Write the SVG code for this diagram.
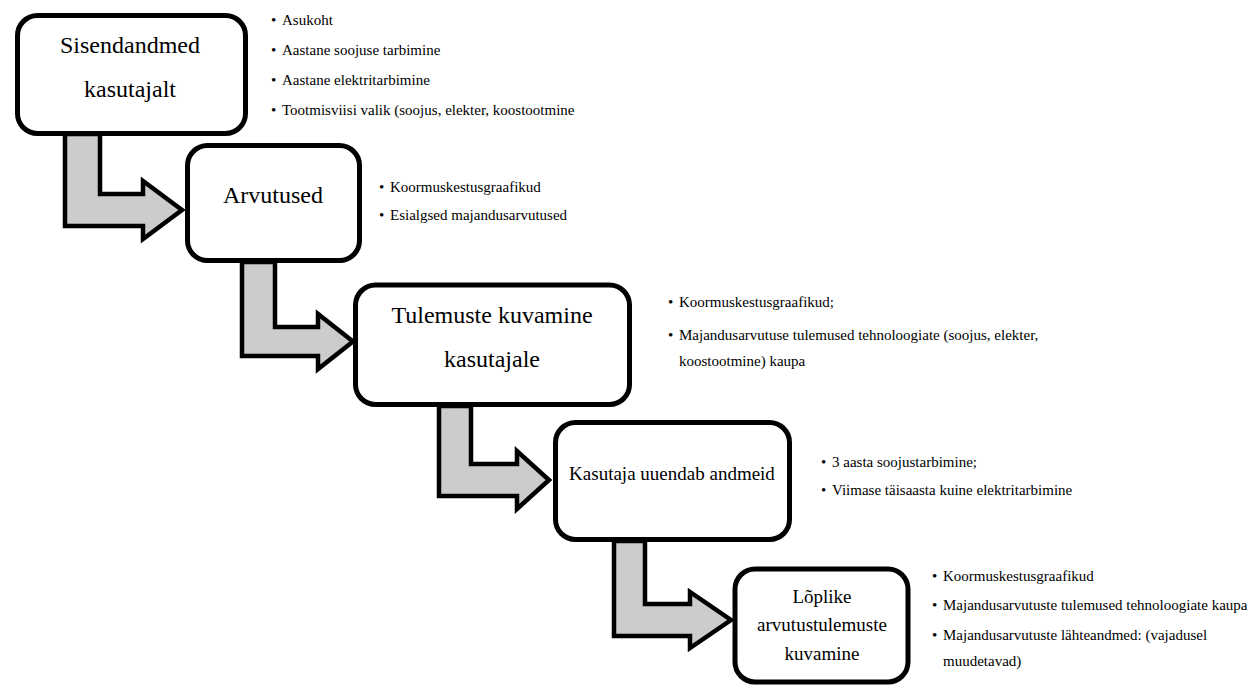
<svg xmlns="http://www.w3.org/2000/svg" width="1253" height="686" viewBox="0 0 1253 686">
<style>
.box{fill:#fff;stroke:#000;stroke-width:5}
.arr{fill:#cccccc;stroke:#000;stroke-width:4.5;stroke-linejoin:miter}
.t{font-family:'Liberation Serif','Times New Roman','DejaVu Serif',serif;fill:#000;text-anchor:middle}
.big{font-size:24px}
.mid{font-size:19px}
.b{font-family:'Liberation Serif','Times New Roman','DejaVu Serif',serif;font-size:15px;fill:#000}
</style>
<rect width="1253" height="686" fill="#fff"/>
<g id="connectors">
<path class="arr" d="M65 134 L65 226 L143 226 L143 239 L182 210 L143 181 L143 194 L100 194 L100 134 Z"/>
<path class="arr" d="M242 262 L242 356 L318 356 L318 369 L353 341.5 L318 314 L318 327 L275 327 L275 262 Z"/>
<path class="arr" d="M439 406 L439 496 L517 496 L517 509 L549 480 L517 451 L517 464 L471 464 L471 406 Z"/>
<path class="arr" d="M614 541 L614 636 L690 636 L690 648 L731 620 L690 592 L690 604 L645 604 L645 541 Z"/>
</g>
<g id="n1">
<rect class="box" x="17.5" y="15.5" width="228" height="118" rx="20"/>
<text class="t big" x="130" y="53" font-family="Liberation Serif">Sisendandmed</text>
<text class="t big" x="130" y="97" font-family="Liberation Serif">kasutajalt</text>
</g>
<g id="n2">
<rect class="box" x="187.5" y="145.5" width="172" height="115" rx="20"/>
<text class="t big" x="273" y="203">Arvutused</text>
</g>
<g id="n3">
<rect class="box" x="355.5" y="285" width="274" height="119.5" rx="20"/>
<text class="t big" x="492" y="323">Tulemuste kuvamine</text>
<text class="t big" x="492" y="367">kasutajale</text>
</g>
<g id="n4">
<rect class="box" x="555.5" y="422.5" width="234" height="117" rx="20"/>
<text class="t mid" x="672" y="480">Kasutaja uuendab andmeid</text>
</g>
<g id="n5">
<rect class="box" x="735" y="569" width="173" height="113" rx="20"/>
<text class="t mid" x="822" y="603">Lõplike</text>
<text class="t mid" x="822" y="631">arvutustulemuste</text>
<text class="t mid" x="822" y="660">kuvamine</text>
</g>
<g id="notes1">
<text class="b" x="271" y="25">•</text><text class="b" x="282" y="25">Asukoht</text>
<text class="b" x="271" y="55">•</text><text class="b" x="282" y="55">Aastane soojuse tarbimine</text>
<text class="b" x="271" y="85">•</text><text class="b" x="282" y="85">Aastane elektritarbimine</text>
<text class="b" x="271" y="115">•</text><text class="b" x="282" y="115">Tootmisviisi valik (soojus, elekter, koostootmine</text>
</g>
<g id="notes2">
<text class="b" x="379" y="192">•</text><text class="b" x="390" y="192">Koormuskestusgraafikud</text>
<text class="b" x="379" y="220">•</text><text class="b" x="390" y="220">Esialgsed majandusarvutused</text>
</g>
<g id="notes3">
<text class="b" x="668" y="307">•</text><text class="b" x="679" y="307">Koormuskestusgraafikud;</text>
<text class="b" x="668" y="340">•</text><text class="b" x="679" y="340">Majandusarvutuse tulemused tehnoloogiate (soojus, elekter,</text>
<text class="b" x="679" y="366">koostootmine) kaupa</text>
</g>
<g id="notes4">
<text class="b" x="821" y="467">•</text><text class="b" x="832" y="467">3 aasta soojustarbimine;</text>
<text class="b" x="821" y="495">•</text><text class="b" x="832" y="495">Viimase täisaasta kuine elektritarbimine</text>
</g>
<g id="notes5">
<text class="b" x="932" y="581">•</text><text class="b" x="943" y="581">Koormuskestusgraafikud</text>
<text class="b" x="932" y="610">•</text><text class="b" x="943" y="610">Majandusarvutuste tulemused tehnoloogiate kaupa</text>
<text class="b" x="932" y="640">•</text><text class="b" x="943" y="640">Majandusarvutuste lähteandmed: (vajadusel</text>
<text class="b" x="943" y="666">muudetavad)</text>
</g>
</svg>
